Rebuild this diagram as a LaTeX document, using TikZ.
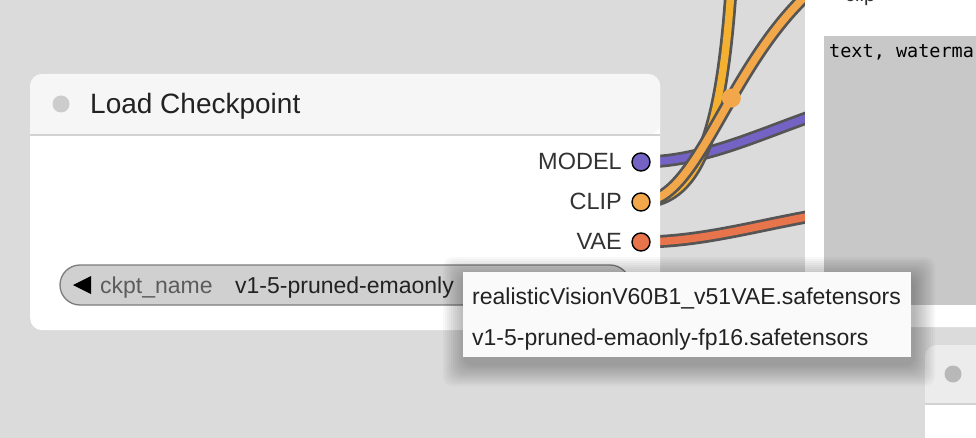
\documentclass[tikz,border=0pt]{standalone}
\usepackage{fontspec}
\setmainfont{Liberation Sans}
\newfontfamily\monofont{DejaVu Sans Mono}
\definecolor{bgc}{HTML}{DBDBDB}
\definecolor{hdrc}{HTML}{F6F6F6}
\definecolor{sepc}{HTML}{D2D2D2}
\definecolor{dotgray}{HTML}{CCCCCC}
\definecolor{modelc}{HTML}{7462C4}
\definecolor{clipc}{HTML}{F2A84A}
\definecolor{clipy}{HTML}{F4B030}
\definecolor{vaec}{HTML}{E8744C}
\definecolor{wireedge}{HTML}{555555}
\definecolor{areac}{HTML}{C8C8C8}
\definecolor{pillc}{HTML}{D0D0D0}
\definecolor{pilledge}{HTML}{7C7C7C}
\definecolor{txtc}{HTML}{222222}
\definecolor{labc}{HTML}{333333}
\definecolor{menuc}{HTML}{FAFAFA}
\tikzset{
  wire/.style={line width=13pt, draw=wireedge, line cap=round,
    postaction={draw=#1, line width=7.5pt, line cap=round}},
  slotdot/.style={circle, minimum size=18pt, inner sep=0pt, fill=#1, draw=black, line width=1.4pt},
  slotlabel/.style={anchor=base east, text=labc, font=\fontsize{23.5}{26}\selectfont, inner sep=0pt},
  menuitem/.style={anchor=base west, text=txtc, font=\fontsize{23}{26}\selectfont, inner sep=0pt},
}
\begin{document}
\begin{tikzpicture}[x=1pt,y=-1pt]
\useasboundingbox (0,0) rectangle (976,438);
\clip (0,0) rectangle (976,438);
\fill[bgc] (0,0) rectangle (976,438);

% slot coordinates
\coordinate (pModel) at (641,162);
\coordinate (pClip) at (641,202);
\coordinate (pVae) at (641,242);
\coordinate (tModel) at (812,116);
\coordinate (tClipA) at (731,-10);
\coordinate (tClipB) at (818,-15);
\coordinate (tVae) at (812,216);

% wires (under the nodes)
\draw[wire=modelc] (pModel) .. controls (700,162) and (750,138) .. (tModel);
\draw[wire=vaec] (pVae) .. controls (700,242) and (755,226) .. (tVae);
\draw[wire=clipy] (pClip) .. controls (702,202) and (722,120) .. (tClipA);
\draw[wire=clipc] (pClip) .. controls (700,202) and (728,60) .. (tClipB)
  node[pos=0.585, circle, fill=clipc, minimum size=19pt, inner sep=0pt] (mid) {};

% main node
\node[anchor=north west, fill=white, rounded corners=12pt, minimum width=630pt, minimum height=256pt, inner sep=0pt] (ckpt) at (30,74) {};
\fill[hdrc, rounded corners=12pt] (30,135) -- (30,74) -- (660,74) -- (660,135) [sharp corners] -- cycle;
\draw[sepc, line width=1.5pt] (30,135) -- (660,135);
\node[circle, fill=dotgray, minimum size=17pt, inner sep=0pt] (hdot) at (61,104) {};
\node[anchor=base west, text=txtc, font=\fontsize{28}{31}\selectfont, inner sep=0pt] (title) at (90,113.5) {Load Checkpoint};

% slot dots and labels
\node[slotdot=modelc] (dModel) at (pModel) {};
\node[slotdot=clipc] (dClip) at (pClip) {};
\node[slotdot=vaec] (dVae) at (pVae) {};
\node[slotlabel] (lModel) at (622,170) {MODEL};
\node[slotlabel] (lClip) at (622,210) {CLIP};
\node[slotlabel] (lVae) at (622,250) {VAE};

% widget
\node[fill=pillc, draw=pilledge, line width=1.3pt, rounded corners=20pt, minimum width=570pt, minimum height=40pt, inner sep=0pt] (widget) at (345,285) {};
\fill[black] (73,285) -- (91,276) -- (91,294) -- cycle;
\node[anchor=base west, text=labc!80!white, font=\fontsize{23}{26}\selectfont, inner sep=0pt] (wname) at (100,293) {ckpt\_name};
\node[anchor=base west, text=txtc, font=\fontsize{23}{26}\selectfont, inner sep=0pt] (wval) at (235,293) {v1-5-pruned-emaonly};

% right top node
\node[anchor=north west, fill=white, rounded corners=12pt, minimum width=200pt, minimum height=350pt, inner sep=0pt] (clipnode) at (805,-23) {};
\node[anchor=base west, text=labc, font=\fontsize{20}{24}\selectfont, inner sep=0pt] (cliplab) at (845,2) {clip};
\node[anchor=north west, fill=areac, minimum width=160pt, minimum height=269pt, inner sep=0pt] (area) at (824,36) {};
\node[anchor=base west, text=black, font=\monofont\fontsize{18.5}{22}\selectfont, inner sep=0pt] (prompt) at (829,58) {text, watermark};

% lower right node
\node[anchor=north west, fill=white, rounded corners=12pt, minimum width=100pt, minimum height=120pt, inner sep=0pt] (nextnode) at (925,345) {};
\fill[hdrc!96!black, rounded corners=12pt] (925,404) -- (925,345) -- (990,345) -- (990,404) [sharp corners] -- cycle;
\draw[sepc, line width=1.5pt] (925,404) -- (990,404);
\node[circle, fill=dotgray!90!black, minimum size=17pt, inner sep=0pt] (ndot) at (953,374) {};

% popup shadow (soft)
\foreach \e in {2,4,...,22}{
  \fill[black, opacity=0.026, rounded corners=10pt] (463-\e+2,272-\e+7) rectangle (911+\e+2,357+\e+7);
}
% popup
\node[anchor=north west, fill=menuc, minimum width=448pt, minimum height=85pt, inner sep=0pt] (menu) at (463,272) {};
\node[menuitem] (item1) at (472,304) {realisticVisionV60B1\_v51VAE.safetensors};
\node[menuitem] (item2) at (472,345) {v1-5-pruned-emaonly-fp16.safetensors};
\end{tikzpicture}
\end{document}
